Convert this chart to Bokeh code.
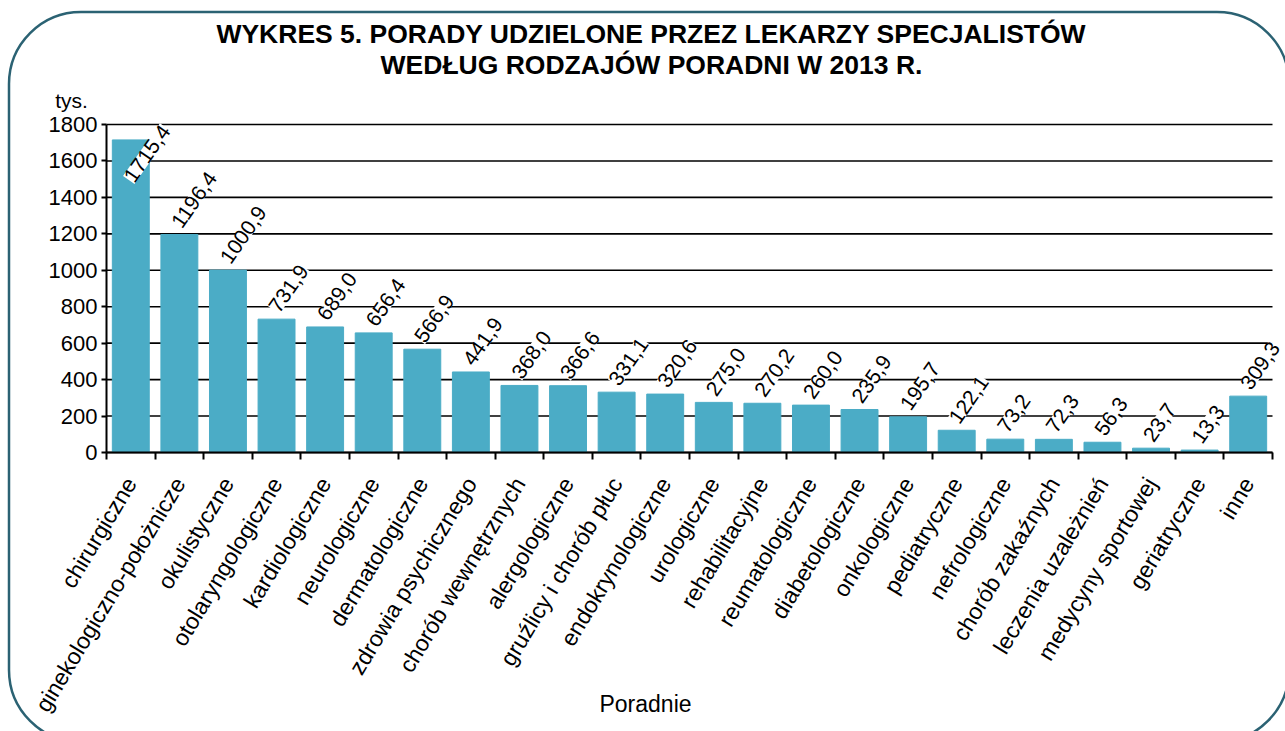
import math
from bokeh.plotting import figure
from bokeh.models import (ColumnDataSource, LabelSet, Label, FixedTicker,
                          Range1d)
from bokeh.core.properties import value
from bokeh.embed import file_html
from bokeh.resources import INLINE

# ---------------- data ----------------
categories = [
    "chirurgiczne", "ginekologiczno-położnicze", "okulistyczne",
    "otolaryngologiczne", "kardiologiczne", "neurologiczne",
    "dermatologiczne", "zdrowia psychicznego", "chorób wewnętrznych",
    "alergologiczne", "gruźlicy i chorób płuc", "endokrynologiczne",
    "urologiczne", "rehabilitacyjne", "reumatologiczne", "diabetologiczne",
    "onkologiczne", "pediatryczne", "nefrologiczne", "chorób zakaźnych",
    "leczenia uzależnień", "medycyny sportowej", "geriatryczne", "inne",
]
values = [1715.4, 1196.4, 1000.9, 731.9, 689.0, 656.4, 566.9, 441.9, 368.0,
          366.6, 331.1, 320.6, 275.0, 270.2, 260.0, 235.9, 195.7, 122.1,
          73.2, 72.3, 56.3, 23.7, 13.3, 309.3]
y_ticks = [0, 200, 400, 600, 800, 1000, 1200, 1400, 1600, 1800]
title_lines = ["WYKRES 5. PORADY UDZIELONE PRZEZ LEKARZY SPECJALISTÓW",
               "WEDŁUG RODZAJÓW PORADNI W 2013 R."]
y_unit = "tys."
x_title = "Poradnie"

# ---------------- layout geometry (page pixels) ----------------
W, H = 1285, 731
FL, FR, FT, FB = 106, 1272, 124, 452      # category span / value span
n = len(categories)
ymax = y_ticks[-1]
px_per_x = (FR - FL) / n
px_per_y = (FB - FT) / ymax


def dx(page_x):
    return (page_x - FL) / px_per_x


def dy(page_y):
    return (FB - page_y) / px_per_y


FONT = "Liberation Sans"
BAR = "#4BACC6"
BORDER = "%232B6273"   # '#' escaped for the data URI

# the frame covers the whole canvas; axes are pinned at x=0 / y=0
p = figure(width=W, height=H, x_range=Range1d(dx(0), dx(W)),
           y_range=Range1d(dy(H), dy(0)),
           output_backend="svg", toolbar_location=None,
           min_border_left=0, min_border_right=0,
           min_border_top=0, min_border_bottom=0)
p.outline_line_color = None
p.background_fill_color = None
p.border_fill_color = None

# rounded frame around the whole chart (decorative page background)
svg = ("<svg xmlns='http://www.w3.org/2000/svg' width='1285' height='731'>"
       "<rect x='9' y='12' width='1280' height='730' rx='72' ry='72' "
       f"fill='none' stroke='{BORDER}' stroke-width='2.5'/></svg>")
p.styles = {"background-image": f'url("data:image/svg+xml;utf8,{svg}")',
            "background-repeat": "no-repeat",
            "background-size": "1285px 731px",
            "background-color": "white"}

xs = [i + 0.5 for i in range(n)]
labels = [f"{v:.1f}".replace(".", ",") for v in values]
yoff = [-40 if v > 0.88 * ymax else 9 for v in values]
xoff = [-2 if v > 0.88 * ymax else -3 for v in values]
src = ColumnDataSource(dict(x=xs, v=values, lbl=labels, yoff=yoff, xoff=xoff))

# horizontal grid lines (stop at the ends of the category axis)
p.xgrid.visible = False
p.ygrid.visible = False
p.segment(x0=[0] * len(y_ticks), x1=[n] * len(y_ticks), y0=y_ticks,
          y1=y_ticks, line_color="black", line_width=1.6)

p.vbar(x="x", top="v", width=0.76, source=src, fill_color=BAR,
       line_color=BAR, line_width=1)

# y axis
p.yaxis.fixed_location = 0
p.yaxis.ticker = FixedTicker(ticks=y_ticks)
p.yaxis.bounds = (0, ymax)
p.yaxis.axis_line_width = 2
p.yaxis.axis_line_color = "black"
p.yaxis.major_tick_out = 5
p.yaxis.major_tick_in = 0
p.yaxis.major_tick_line_width = 2
p.yaxis.minor_tick_out = 0
p.yaxis.minor_tick_in = 0
p.yaxis.major_label_text_font = FONT
p.yaxis.major_label_text_font_size = "22px"
p.yaxis.major_label_text_color = "black"
p.yaxis.major_label_standoff = 4

# x axis
p.xaxis.fixed_location = 0
p.xaxis.ticker = FixedTicker(ticks=xs, minor_ticks=list(range(n + 1)))
p.xaxis.bounds = (0, n)
p.xaxis.major_label_overrides = {x: c for x, c in zip(xs, categories)}
p.xaxis.axis_line_width = 2
p.xaxis.axis_line_color = "black"
p.xaxis.major_tick_out = 0
p.xaxis.major_tick_in = 0
p.xaxis.minor_tick_out = 7
p.xaxis.minor_tick_in = 0
p.xaxis.minor_tick_line_width = 2
p.xaxis.minor_tick_line_color = "black"
p.xaxis.major_label_orientation = math.radians(59)
p.xaxis.major_label_text_font = FONT
p.xaxis.major_label_text_font_size = "23px"
p.xaxis.major_label_text_color = "black"
p.xaxis.major_label_standoff = 20

# value labels
p.add_layout(LabelSet(x="x", y="v", text="lbl", source=src, angle=55,
                      angle_units="deg", text_align="left",
                      text_baseline="middle", x_offset="xoff", y_offset="yoff",
                      background_fill_color="white", text_font=value(FONT),
                      text_font_size="21px", text_color="black"))

# titles and other texts
for i, line in enumerate(title_lines):
    p.add_layout(Label(x=dx(651), y=dy(33 + 31 * i), text=line,
                       text_align="center", text_baseline="middle",
                       text_font=FONT, text_font_style="bold",
                       text_font_size="26.5px", text_color="black"))
p.add_layout(Label(x=dx(71), y=dy(100), text=y_unit, text_align="center",
                   text_baseline="middle", text_font=FONT,
                   text_font_size="21px", text_color="black"))
p.add_layout(Label(x=dx(645), y=dy(703), text=x_title, text_align="center",
                   text_baseline="middle", text_font=FONT,
                   text_font_size="23px", text_color="black"))

open("out.html", "w").write(file_html(p, INLINE))
